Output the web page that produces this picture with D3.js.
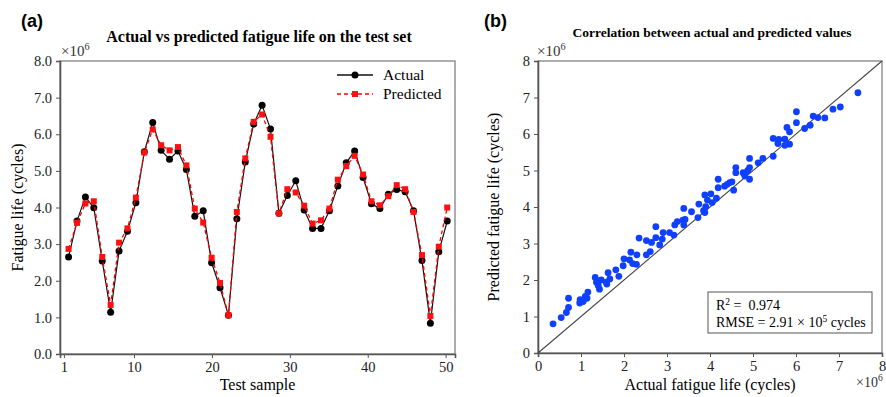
<!DOCTYPE html>
<html><head><meta charset="utf-8">
<script src="https://cdn.jsdelivr.net/npm/d3@7/dist/d3.min.js"></script>
<style>body{margin:0;background:#fff}svg{display:block}</style>
</head><body>
<svg id="c" width="886" height="397"></svg>
<script>
// ---- data (values in units of 1e6 cycles) ----
const actual = [2.65,3.63,4.29,3.99,2.54,1.14,2.81,3.35,4.13,5.52,
  6.32,5.56,5.32,5.54,5.04,3.76,3.91,2.49,1.81,1.06,
  3.69,5.24,6.28,6.79,6.14,3.84,4.33,4.73,3.93,3.43,
  3.43,3.91,4.59,5.22,5.54,4.82,4.10,3.97,4.36,4.49,
  4.43,3.91,2.55,0.84,2.79,3.63];
const predicted = [2.87,3.58,4.11,4.17,2.65,1.34,3.04,3.43,4.27,5.50,
  6.13,5.70,5.56,5.65,5.15,3.97,3.59,2.63,1.94,1.06,
  3.88,5.34,6.34,6.54,5.93,3.84,4.50,4.41,4.05,3.56,
  3.65,3.97,4.76,5.13,5.41,4.90,4.17,4.06,4.31,4.61,
  4.50,3.88,2.70,1.04,2.93,4.00];
const sampleTicks = [1,10,20,30,40,50];
const lifeTicks = [0,1,2,3,4,5,6,7,8];

const scatterActual = [0.35,0.54,0.66,0.71,0.71,0.97,0.98,1.14,1.16,1.05,
  1.33,1.36,1.43,1.47,1.59,1.63,1.60,1.81,1.88,1.98,
  2.00,2.13,2.16,2.29,2.30,2.35,2.52,2.52,2.61,2.64,
  2.74,2.74,2.83,2.89,2.91,3.06,3.16,3.18,3.24,3.37,
  3.39,3.39,3.57,3.72,3.74,3.88,3.90,3.88,3.94,4.02,
  4.05,4.15,4.19,4.19,4.34,4.46,4.51,4.55,4.60,4.60,
  4.77,4.81,4.92,4.92,4.92,5.12,5.23,5.47,5.47,5.58,
  5.60,5.74,5.74,5.85,5.79,5.85,6.01,6.01,6.20,6.33,
  6.40,6.51,6.67,6.86,7.03,7.44,1.67,1.40,2.20,3.42,3.85,4.40,4.88,1.10];
const scatterPred = [0.80,0.97,1.11,1.25,1.50,1.37,1.46,1.50,1.67,1.41,
  2.07,1.94,1.75,2.00,1.94,2.20,1.89,2.28,2.10,2.39,
  2.58,2.55,2.76,2.43,2.69,3.15,2.69,3.08,2.78,3.03,
  3.46,3.16,2.96,3.12,3.30,3.30,3.23,3.51,3.60,3.64,
  3.96,3.51,3.87,3.71,4.08,3.85,4.01,4.33,4.19,4.36,
  4.12,4.24,4.53,4.76,4.57,4.67,4.69,4.46,5.08,4.94,
  4.94,4.85,4.76,5.08,5.33,5.21,5.33,5.39,5.88,5.74,
  5.85,5.86,5.69,5.72,6.18,6.06,6.31,6.61,6.15,6.24,
  6.49,6.45,6.44,6.68,6.74,7.13,2.03,1.85,2.45,3.66,3.90,4.62,5.00,1.55];

const svg = d3.select("#c");
const serif = "'Liberation Serif','Times New Roman',serif";
const axisCol = "#555";

function sci(g, x, y, base, exp, fs) {
  const t = g.append("text").attr("x",x).attr("y",y).attr("font-family",serif).attr("font-size",fs).attr("fill","#333");
  t.append("tspan").text(base);
  t.append("tspan").attr("dy",-fs*0.4).attr("font-size",fs*0.68).text(exp);
  return t;
}

// ---------- panel (a) ----------
const A = {l:60, r:455, t:61, b:354};
const xA = d3.scaleLinear().domain([0.5, 51.2]).range([A.l, A.r]);
const yA = d3.scaleLinear().domain([0, 8]).range([A.b, A.t]);
const idx = d3.scaleLinear().domain([0, actual.length - 1]).range([1.6, 50.2]);

const gA = svg.append("g");
gA.append("rect").attr("x",A.l).attr("y",A.t).attr("width",A.r-A.l).attr("height",A.b-A.t)
  .attr("fill","none").attr("stroke","#777").attr("stroke-width",1.2);

const axXA = gA.append("g").attr("transform",`translate(0,${A.b})`)
  .call(d3.axisBottom(xA).tickValues(sampleTicks).tickSize(4).tickPadding(4));
const axYA = gA.append("g").attr("transform",`translate(${A.l},0)`)
  .call(d3.axisLeft(yA).tickValues(lifeTicks).tickFormat(d3.format(".1f")).tickSize(4).tickPadding(4));
[axXA, axYA].forEach(a=>{
  a.select(".domain").attr("stroke",axisCol).attr("stroke-width",1.6);
  a.selectAll(".tick line").attr("stroke",axisCol);
  a.selectAll("text").attr("font-family",serif).attr("font-size",14.5).attr("fill","#222");
});

const lineA = d3.line().x((d,i)=>xA(idx(i))).y(d=>yA(d));
gA.append("path").datum(actual).attr("d",lineA).attr("fill","none")
  .attr("stroke","#111").attr("stroke-width",1.2);
gA.selectAll(".act").data(actual).enter().append("circle")
  .attr("cx",(d,i)=>xA(idx(i))).attr("cy",d=>yA(d)).attr("r",3.5).attr("fill","#000");
gA.append("path").datum(predicted).attr("d",lineA).attr("fill","none")
  .attr("stroke","#ff0000").attr("stroke-width",1.3).attr("stroke-dasharray","4,3");
gA.selectAll(".pred").data(predicted).enter().append("rect")
  .attr("x",(d,i)=>xA(idx(i))-3).attr("y",d=>yA(d)-3).attr("width",6).attr("height",6).attr("fill","#ff1010");

// legend
const lg = gA.append("g");
lg.append("line").attr("x1",337).attr("x2",373).attr("y1",75).attr("y2",75).attr("stroke","#111").attr("stroke-width",1.3);
lg.append("circle").attr("cx",355).attr("cy",75).attr("r",3.5).attr("fill","#000");
lg.append("line").attr("x1",337).attr("x2",373).attr("y1",94).attr("y2",94).attr("stroke","#ff0000").attr("stroke-width",1.3).attr("stroke-dasharray","4,3");
lg.append("rect").attr("x",352).attr("y",91).attr("width",6).attr("height",6).attr("fill","#ff1010");
lg.append("text").attr("x",383).attr("y",80).text("Actual").attr("font-family",serif).attr("font-size",15.5);
lg.append("text").attr("x",383).attr("y",99).text("Predicted").attr("font-family",serif).attr("font-size",15.5);

gA.append("text").attr("x",259).attr("y",42).attr("text-anchor","middle")
  .attr("font-family",serif).attr("font-weight","bold").attr("font-size",16)
  .text("Actual vs predicted fatigue life on the test set");
gA.append("text").attr("x",21).attr("y",27).attr("font-family","'Liberation Sans',Arial,sans-serif")
  .attr("font-weight","bold").attr("font-size",18).text("(a)");
sci(gA, 61, 56, "×10", "6", 15);
gA.append("text").attr("x",(A.l+A.r)/2).attr("y",390).attr("text-anchor","middle")
  .attr("font-family",serif).attr("font-size",16).text("Test sample");
gA.append("text").attr("transform",`translate(23,${(A.t+A.b)/2}) rotate(-90)`).attr("text-anchor","middle")
  .attr("font-family",serif).attr("font-size",16).text("Fatigue life (cycles)");

// ---------- panel (b) ----------
const B = {l:538, r:882, t:61, b:353};
const xB = d3.scaleLinear().domain([0, 8]).range([B.l, B.r]);
const yB = d3.scaleLinear().domain([0, 8]).range([B.b, B.t]);
const gB = svg.append("g");
gB.append("rect").attr("x",B.l).attr("y",B.t).attr("width",B.r-B.l).attr("height",B.b-B.t)
  .attr("fill","none").attr("stroke","#777").attr("stroke-width",1.2);
const axXB = gB.append("g").attr("transform",`translate(0,${B.b})`)
  .call(d3.axisBottom(xB).tickValues(lifeTicks).tickFormat(d3.format("d")).tickSize(4).tickPadding(4));
const axYB = gB.append("g").attr("transform",`translate(${B.l},0)`)
  .call(d3.axisLeft(yB).tickValues(lifeTicks).tickFormat(d3.format("d")).tickSize(4).tickPadding(4));
[axXB, axYB].forEach(a=>{
  a.select(".domain").attr("stroke",axisCol).attr("stroke-width",1.6);
  a.selectAll(".tick line").attr("stroke",axisCol);
  a.selectAll("text").attr("font-family",serif).attr("font-size",14.5).attr("fill","#222");
});
gB.append("line").attr("x1",xB(0)).attr("y1",yB(0)).attr("x2",xB(8)).attr("y2",yB(8))
  .attr("stroke","#444").attr("stroke-width",1.1);
gB.selectAll(".pt").data(scatterActual).enter().append("circle")
  .attr("cx",d=>xB(d)).attr("cy",(d,i)=>yB(scatterPred[i])).attr("r",3.4).attr("fill","#1040ff");

gB.append("rect").attr("x",708).attr("y",292).attr("width",164).attr("height",41)
  .attr("fill","#fff").attr("stroke","#555").attr("stroke-width",1);
const t1 = gB.append("text").attr("x",716).attr("y",310).attr("font-family",serif).attr("font-size",14).attr("xml:space","preserve");
t1.append("tspan").text("R");
t1.append("tspan").attr("dy",-5).attr("font-size",9.5).text("2");
t1.append("tspan").attr("dy",5).text("\u00a0=\u00a0\u00a00.974");
const t2 = gB.append("text").attr("x",716).attr("y",327).attr("font-family",serif).attr("font-size",14);
t2.append("tspan").text("RMSE = 2.91 × 10");
t2.append("tspan").attr("dy",-5).attr("font-size",9.5).text("5");
t2.append("tspan").attr("dy",5).text(" cycles");

gB.append("text").attr("x",712).attr("y",37).attr("text-anchor","middle")
  .attr("font-family",serif).attr("font-weight","bold").attr("font-size",13.5)
  .text("Correlation between actual and predicted values");
gB.append("text").attr("x",484).attr("y",27).attr("font-family","'Liberation Sans',Arial,sans-serif")
  .attr("font-weight","bold").attr("font-size",18).text("(b)");
sci(gB, 537, 56, "×10", "6", 15);
sci(gB, 856, 387, "×10", "6", 14);
gB.append("text").attr("x",(B.l+B.r)/2).attr("y",390).attr("text-anchor","middle")
  .attr("font-family",serif).attr("font-size",16).text("Actual fatigue life (cycles)");
gB.append("text").attr("transform",`translate(499,${(B.t+B.b)/2}) rotate(-90)`).attr("text-anchor","middle")
  .attr("font-family",serif).attr("font-size",16).text("Predicted fatigue life (cycles)");
</script>
</body></html>
